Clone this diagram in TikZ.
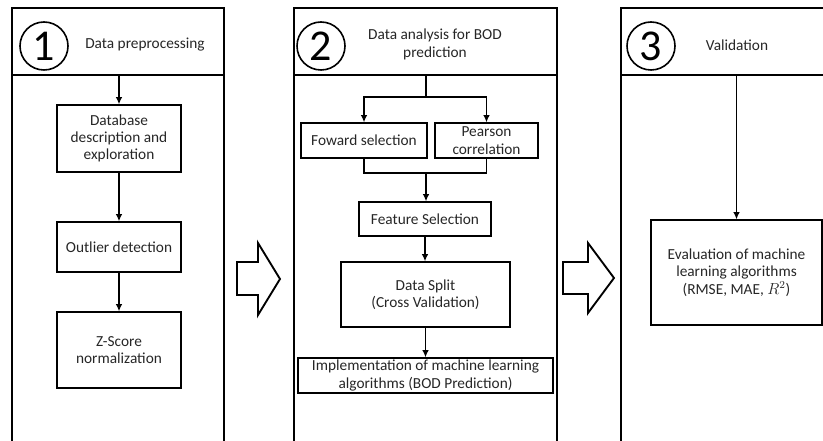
\documentclass[tikz,border=0pt]{standalone}
\usepackage{fontspec}
\setmainfont{Carlito}
\usetikzlibrary{arrows.meta}

\tikzset{
  panel/.style={draw, line width=1.7pt},
  head/.style={panel, minimum height=50.25pt, inner sep=0pt},
  numcirc/.style={circle, draw, line width=1.2pt, minimum size=36pt, inner sep=0pt, font=\fontsize{33}{33}\selectfont},
  title/.style={align=center, text=black!85, font=\fontsize{11.5}{13.5}\selectfont},
  stepbox/.style={draw, line width=0.9pt, align=center, inner sep=1pt, text=black!85, font=\fontsize{11.5}{13}\selectfont},
  flow/.style={-{Latex[length=5.5pt,width=5pt]}, line width=1.4pt},
  link/.style={line width=1.4pt},
  bigarrow/.style={draw, line width=1.4pt, line join=miter},
}

\begin{document}
\begin{tikzpicture}[x=0.75pt, y=-0.75pt]
  \useasboundingbox (0,0) rectangle (823,441);
  \clip (0,0) rectangle (823,441);

  % stage 1: preprocessing
  \draw[panel] (12,8) rectangle (224,470);
  \node[head, minimum width=159pt] (h1) at (118,41.5) {};
  \node[numcirc] (n1) at (44,46) {1};
  \node[title] (t1) at (145,45) {Data preprocessing};
  \node[stepbox, minimum width=93pt, minimum height=50.25pt] (db) at (119,138.5) {Database\\description and\\exploration};
  \node[stepbox, minimum width=93pt, minimum height=37.5pt] (od) at (119,247) {Outlier detection};
  \node[stepbox, minimum width=93pt, minimum height=57pt] (zs) at (119,350) {Z-Score\\normalization};
  \draw[flow] (h1.south -| db.north) -- (db.north);
  \draw[flow] (db) -- (od);
  \draw[flow] (od) -- (zs);

  % stage 2: analysis
  \draw[panel] (294,8) rectangle (557,470);
  \node[head, minimum width=197.25pt] (h2) at (425.5,41.5) {};
  \node[numcirc] (n2) at (321,46) {2};
  \node[title] (t2) at (435,44) {Data analysis for BOD\\prediction};
  \node[stepbox, minimum width=94.5pt, minimum height=26.25pt] (fs) at (364,140.5) {Foward selection};
  \node[stepbox, minimum width=77.25pt, minimum height=26.25pt] (pc) at (486.5,140.5) {Pearson\\correlation};
  \node[stepbox, minimum width=99pt, minimum height=25.5pt] (fe) at (425,219) {Feature Selection};
  \node[stepbox, minimum width=126.75pt, minimum height=48.75pt] (ds) at (425.5,294.5) {Data Split\\(Cross Validation)};
  \node[stepbox, minimum width=191.25pt, minimum height=26.25pt] (im) at (425.5,375.5) {Implementation of machine learning\\algorithms (BOD Prediction)};
  \coordinate (split) at (426,97);
  \coordinate (join) at (426,173);
  \draw[link] (h2.south -| split) -- (split);
  \draw[flow] (split) -| (fs.north);
  \draw[flow] (split) -| (pc.north);
  \draw[link] (fs.south) |- (join) -| (pc.south);
  \draw[flow] (join) -- (join |- fe.north);
  \draw[flow] (fe.south) -- (fe.south |- ds.north);
  \draw[flow] (ds) -- (im);

  % stage 3: validation
  \draw[panel] (621,8) rectangle (900,470);
  \node[head, minimum width=209.25pt] (h3) at (760.5,41.5) {};
  \node[numcirc] (n3) at (651,46) {3};
  \node[title] (t3) at (737,45) {Validation};
  \node[stepbox, minimum width=128.25pt, minimum height=78.75pt] (ev) at (736.5,272.5) {Evaluation of machine\\learning algorithms\\(RMSE, MAE, $R^2$)};
  \draw[flow] (h3.south -| ev.north) -- (ev.north);

  % block arrows between stages
  \draw[bigarrow] (237,262) -- (258,262) -- (258,243) -- (280,279) -- (258,315) -- (258,295) -- (237,295) -- cycle;
  \draw[bigarrow] (563,262) -- (588,262) -- (588,243) -- (614,278) -- (588,313) -- (588,294) -- (563,294) -- cycle;
\end{tikzpicture}
\end{document}
